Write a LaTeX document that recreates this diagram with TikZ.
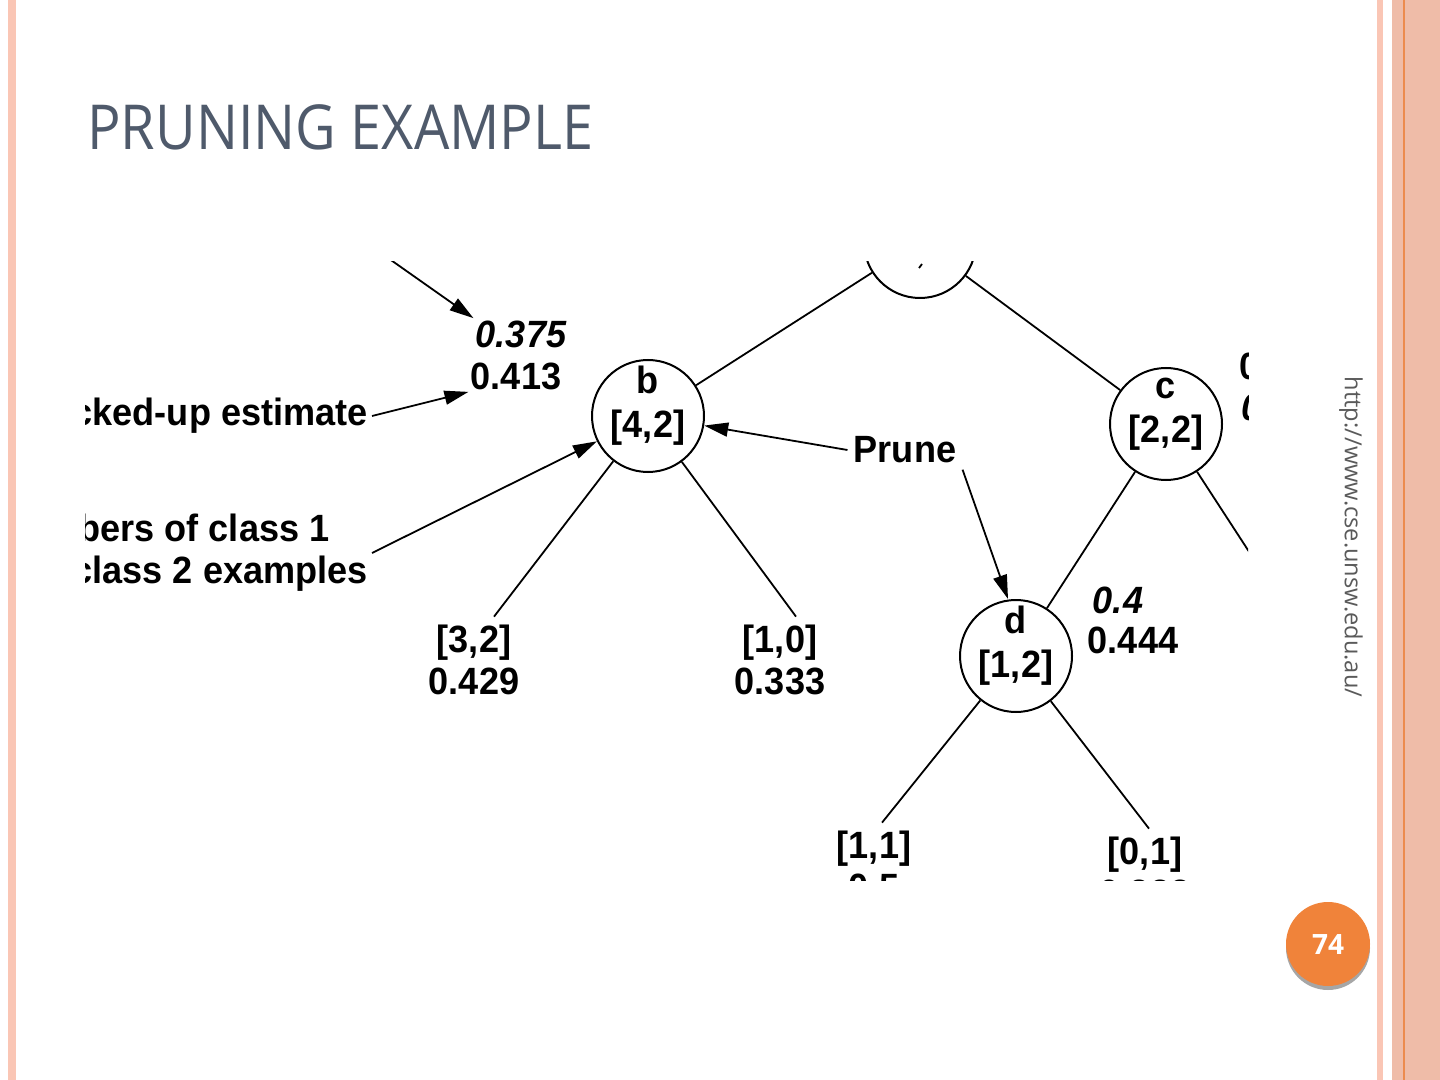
\documentclass[tikz,border=0pt]{standalone}
\usepackage{fontspec}
\setmainfont{Liberation Sans}
\newfontfamily\titlefont[FakeStretch=0.9]{Open Sans}
\newfontfamily\urlfont{Open Sans}
\newfontfamily\treefont[FakeStretch=0.95]{Liberation Sans}
\usetikzlibrary{arrows.meta, calc}
\definecolor{titleink}{HTML}{4F5A6B}
\definecolor{stripe}{HTML}{FAC6B5}
\definecolor{panel}{HTML}{EFBCA8}
\definecolor{panelline}{HTML}{EC8B4E}
\definecolor{badge}{HTML}{F0833A}
\definecolor{urlink}{HTML}{5A5A5A}

\begin{document}
\begin{tikzpicture}[x=0.5pt, y=-0.5pt,
    every node/.style={font=\treefont\bfseries\fontsize{19}{21}\selectfont},
    tnode/.style={circle, draw, line width=1pt, minimum size=56pt, inner sep=0pt},
    tlabel/.style={align=center, yshift=5pt, font=\treefont\bfseries\fontsize{19}{22}\selectfont},
    leaf/.style={align=center, inner sep=4pt},
    est/.style={font=\treefont\bfseries\itshape\fontsize{19}{21}\selectfont, inner sep=1pt},
    val/.style={inner sep=1pt},
    edge/.style={line width=0.9pt},
    arrow/.style={-{Triangle[length=12pt, width=7pt]}, line width=0.9pt}]

  % slide frame
  \fill[white] (0,0) rectangle (1440,1080);
  \useasboundingbox (0,0) rectangle (1440,1080);
  \fill[stripe] (8,0) rectangle (16,1080);
  \fill[stripe] (1377,0) rectangle (1383,1080);
  \fill[panel] (1392,0) rectangle (1440,1080);
  \fill[panelline] (1403,0) rectangle (1405,1080);

  \node[anchor=base west, inner sep=0pt, text=titleink,
    font=\titlefont\fontsize{31}{36}\selectfont] (title) at (87,150) {PRUNING EXAMPLE};

  \node[rotate=-90, inner sep=0pt, text=urlink,
    font=\urlfont\fontsize{11.8}{14}\selectfont] (url) at (1351,537) {http://www.cse.unsw.edu.au/};

  \fill[black!35] (1328,948) circle[radius=21pt];
  \node[circle, fill=badge, minimum size=42pt, inner sep=0pt, text=white,
    font=\urlfont\bfseries\fontsize{14}{16}\selectfont] (page) at (1328,944) {74};

  % tree picture
  \begin{scope}
    \clip (85,262) rectangle (1248,880);

    \node[tnode] (root) at (920,242) {};
    \draw[line width=0.9pt] (919,268) -- (922,264);
    \node[tnode, label={[tlabel]center:b\\{[}4,2{]}}] (b) at (648,416) {};
    \node[tnode, label={[tlabel]center:c\\{[}2,2{]}}] (c) at (1166,424) {};
    \node[tnode, label={[tlabel]center:d\\{[}1,2{]}}] (d) at (1016,656) {};

    \node[leaf] (l32) at (474,660) {{[}3,2{]}\\0.429};
    \node[leaf] (l10) at (780,660) {{[}1,0{]}\\0.333};
    \node[leaf] (l11) at (874,866) {{[}1,1{]}\\0.5};
    \node[leaf] (l01) at (1145,872) {{[}0,1{]}\\0.333};
    \coordinate (cright) at (1430,830);

    \node[est] (e375) at (521,334) {0.375};
    \node[val] (v413) at (516,376) {0.413};
    \node[est] (e4) at (1118,600) {0.4};
    \node[val] (v444) at (1133,640) {0.444};
    \node[val, anchor=west] (vc1) at (1237,366) {0.5};
    \node[est, anchor=west] (ec2) at (1239,407) {0.4};

    \node[anchor=east, inner sep=2pt] (bue) at (372,416) {Backed-up estimate};
    \node[anchor=east, align=left, inner sep=2pt] (cls) at (372,553) {Numbers of class 1\\and class 2 examples};
    \node[inner sep=3pt] (prune) at (905,450) {Prune};
    \coordinate (src) at (300,196);

    \draw[edge] (root) -- (b);
    \draw[edge] (root) -- (c);
    \draw[edge] (b) -- ([xshift=10pt]l32.north);
    \draw[edge] (b) -- ([xshift=8pt]l10.north);
    \draw[edge] (c) -- (d);
    \draw[edge] (c) -- (cright);
    \draw[edge] (d) -- ([xshift=4pt]l11.north);
    \draw[edge] (d) -- ([xshift=2pt]l01.north);

    \draw[arrow] (src) -- (e375.north west);
    \draw[arrow] (bue.east) -- (v413.south west);
    \draw[arrow] (cls.east) -- (b);
    \draw[arrow] (prune.west) -- (b);
    \draw[arrow] (prune.south east) -- ([xshift=-4pt]d.north);
  \end{scope}
\end{tikzpicture}
\end{document}
